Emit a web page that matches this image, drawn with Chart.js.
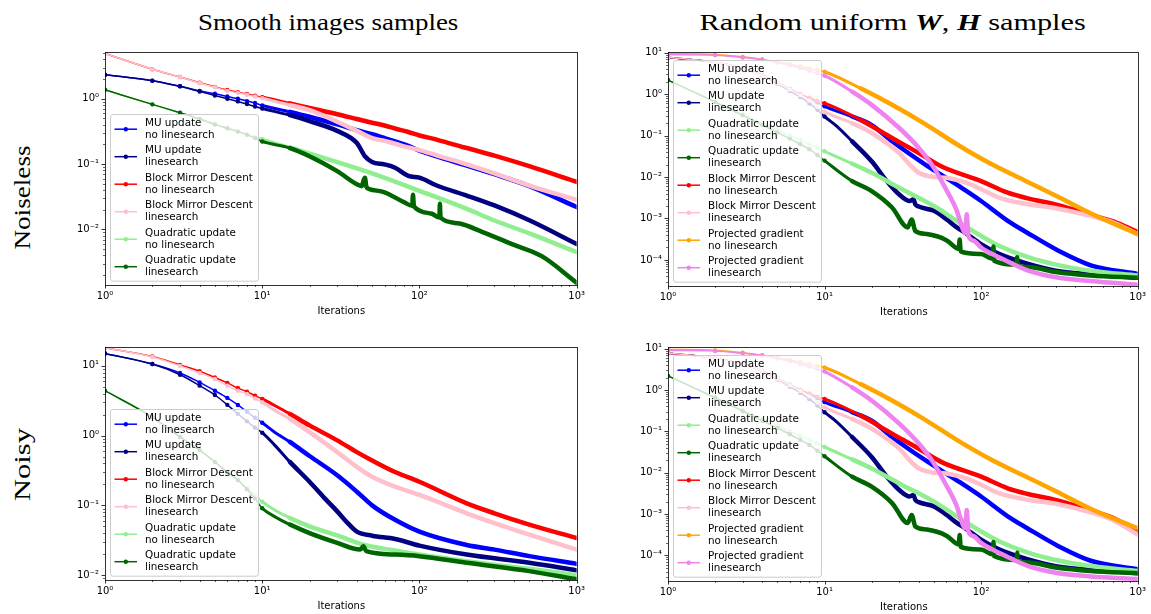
<!DOCTYPE html>
<html><head><meta charset="utf-8">
<script src="https://cdn.jsdelivr.net/npm/chart.js@4.4.0/dist/chart.umd.min.js"></script>
<style>
html,body{margin:0;padding:0;background:#fff;width:1151px;height:614px;overflow:hidden;position:relative;}
canvas{position:absolute;}
.t{position:absolute;white-space:nowrap;font-family:'Liberation Serif',serif;font-size:23px;color:#000;line-height:1;transform-origin:0 0;}
.ax{position:absolute;font-family:'DejaVu Sans',sans-serif;font-size:10px;white-space:nowrap;color:#000;line-height:1;}
</style></head><body>
<script>
// ---------------- DATA ----------------
const xTickDecades = [1, 10, 100, 1000];
const columnTitles = ['Smooth images samples', 'Random uniform <b><i>W</i></b>, <b><i>H</i></b> samples'];
const rowTitles = ['Noiseless', 'Noisy'];
const xAxisTitle = 'Iterations';

const LBL_MU_NO = 'MU update\nno linesearch';
const LBL_MU_LS = 'MU update\nlinesearch';
const LBL_BMD_NO = 'Block Mirror Descent\nno linesearch';
const LBL_BMD_LS = 'Block Mirror Descent\nlinesearch';
const LBL_Q_NO = 'Quadratic update\nno linesearch';
const LBL_Q_LS = 'Quadratic update\nlinesearch';
const LBL_PG_NO = 'Projected gradient\nno linesearch';
const LBL_PG_LS = 'Projected gradient\nlinesearch';

// Top-left: smooth, noiseless
const tlX   = [1,2,3,4,5,6,7,8,9,10,15,20,30,40,50,60,70,85,100,130,200,300,500,1000];
const tlMuNo  = [2.33,1.89,1.55,1.32,1.19,1.08,1.0,0.92,0.86,0.79,0.63,0.53,0.405,0.33,0.286,0.25,0.222,0.19,0.16,0.13,0.095,0.07,0.046,0.022];
const tlBmdNo = [4.94,2.83,2.15,1.76,1.52,1.36,1.26,1.18,1.11,1.06,0.85,0.72,0.58,0.49,0.43,0.39,0.35,0.31,0.274,0.235,0.176,0.135,0.093,0.0535];
const tlBmdLs = [4.94,2.83,2.15,1.74,1.50,1.32,1.23,1.15,1.08,1.02,0.80,0.667,0.445,0.322,0.249,0.227,0.205,0.18,0.164,0.135,0.099,0.072,0.047,0.0283];
const tlXn  = [1,2,3,4,5,6,7,8,9,10,15,20,30,40,45,50,60,70,85,100,130,200,300,500,1000];
const tlMuLs  = [2.33,1.89,1.55,1.29,1.12,1.0,0.91,0.83,0.76,0.71,0.56,0.455,0.322,0.21,0.132,0.108,0.099,0.088,0.066,0.062,0.0466,0.033,0.0233,0.0138,0.006];
const tlXq  = [1,2,3,4,5,6,7,8,9,10,15,20,30,50,100,200,300,500,1000];
const tlQNo   = [1.37,0.82,0.61,0.49,0.405,0.353,0.314,0.286,0.261,0.241,0.18,0.145,0.107,0.072,0.039,0.0207,0.0137,0.0087,0.0045];
const tlXd  = [1,2,3,4,5,6,7,8,9,10,15,20,30,40,43,44,45,46,48,60,80,90,91,92,93,120,134,135,136,137,180,250,400,600,1000];
const tlQLs   = [1.37,0.82,0.61,0.49,0.405,0.353,0.314,0.28,0.25,0.222,0.176,0.132,0.078,0.049,0.046,0.055,0.062,0.045,0.0415,0.037,0.026,0.023,0.034,0.024,0.022,0.0174,0.0152,0.0247,0.016,0.015,0.0123,0.0092,0.0058,0.0039,0.00153];

// Top-right: random uniform, noiseless
const trXb  = [1,2,3,4,5,6,7,8,9,10,15,20,27,44,72,100,148,196,312,508,1000];
const trMuNo  = [7.7,5.9,4.2,2.9,1.9,1.35,1.0,0.8,0.63,0.51,0.29,0.18,0.073,0.020,0.0061,0.00265,0.00088,0.00046,0.000167,0.000073,0.000046];
const trXn  = [1,2,3,4,5,6,7,8,9,10,12,15,20,25,30,35,37,38,40,50,60,70,80,90,100,130,200,300,500,1000];
const trMuLs  = [7.7,5.9,4.2,2.9,1.8,1.2,0.85,0.6,0.42,0.29,0.168,0.073,0.024,0.008,0.0038,0.00265,0.0029,0.0022,0.00194,0.00153,0.00096,0.00061,0.00044,0.00032,0.00024,0.00014,0.00008,0.000055,0.000045,0.000037];
const trXq  = [1,2,3,4,5,6,7,8,9,10,15,20,30,50,70,100,130,200,300,500,1000];
const trQNo   = [2.2,0.67,0.33,0.2,0.14,0.1,0.078,0.062,0.051,0.042,0.021,0.0127,0.0055,0.002,0.00088,0.00038,0.00022,0.000116,0.000077,0.000055,0.000042];
const trXd  = [1,2,3,4,5,6,7,8,9,10,15,20,27,34,36,38,45,60,72,73,74,100,118,120,121,168,170,171,200,300,500,1000];
const trQLs   = [2.2,0.65,0.31,0.18,0.12,0.085,0.062,0.047,0.034,0.025,0.008,0.0046,0.00184,0.00061,0.00095,0.0005,0.00042,0.0003,0.000184,0.00031,0.000161,0.000139,0.000106,0.00021,0.000096,0.000077,0.000116,0.000073,0.000067,0.000051,0.000042,0.000037];
const trXr  = [1,2,3,4,5,6,7,8,9,10,17,27,40,56,100,148,196,312,508,700,1000];
const trBmdNo = [7.8,5.9,4.2,2.9,1.84,1.34,1.0,0.83,0.69,0.61,0.24,0.088,0.038,0.018,0.008,0.0042,0.0031,0.0021,0.0012,0.00085,0.00047];
const trXp  = [1,2,3,4,5,6,7,8,9,10,15,20,30,35,40,50,60,80,100,130,200,300,500,700,1000];
const trBmdLs = [7.8,5.9,4.2,2.9,1.9,1.3,0.95,0.7,0.5,0.38,0.2,0.116,0.038,0.02,0.0127,0.01,0.0096,0.0073,0.0051,0.0032,0.0022,0.00177,0.00116,0.0008,0.00042];
const trXo  = [1,2,3,4,5,6,7,8,9,10,17,27,44,72,118,191,312,508,1000];
const trPgNo  = [9.6,9.1,8.0,6.9,6.0,5.3,4.7,4.2,3.8,3.5,1.39,0.555,0.19,0.058,0.02,0.0082,0.0033,0.0013,0.00042];
const trXv  = [1,2,3,4,5,6,7,8,9,10,15,20,30,40,50,59,70,75,79,80,81,82,83,90,100,130,200,300,500,1000];
const trPgLs  = [9.0,8.8,7.7,6.8,5.8,5.0,4.3,3.7,3.2,2.8,1.16,0.555,0.153,0.0506,0.0167,0.0055,0.00153,0.00067,0.00045,0.0007,0.00126,0.0007,0.00038,0.00029,0.0002,0.000116,0.000055,0.000038,0.000031,0.000025];

// Bottom-left: smooth, noisy
const blX   = [1,2,3,4,5,6,7,8,9,10,12,15,20,30,40,50,70,100,200,300,500,1000];
const blBmdNo = [18.2,13.6,10.3,8.4,6.8,5.7,4.8,4.26,3.74,3.35,2.7,2.05,1.4,0.855,0.58,0.44,0.30,0.218,0.107,0.077,0.053,0.034];
const blBmdLs = [18.2,13.4,10.0,7.9,6.46,5.2,4.4,3.95,3.4,3.0,2.3,1.74,1.12,0.58,0.356,0.257,0.185,0.141,0.077,0.0557,0.038,0.0232];
const blMuNo  = [15.0,10.6,7.9,5.8,4.4,3.47,2.75,2.2,1.8,1.53,1.12,0.81,0.51,0.27,0.157,0.10,0.062,0.042,0.027,0.0232,0.0187,0.0145];
const blXn  = [1,2,3,4,5,6,7,8,9,10,12,15,20,25,30,35,40,50,70,100,200,500,1000];
const blMuLs  = [15.0,10.6,7.45,5.2,3.82,2.76,2.05,1.6,1.3,1.1,0.73,0.42,0.218,0.126,0.082,0.0557,0.042,0.0367,0.033,0.0265,0.0197,0.015,0.0117];
const blXq  = [1,2,3,4,5,6,7,8,9,10,12,15,20,30,45,70,100,200,500,1000];
const blQNo   = [4.4,1.84,0.955,0.62,0.42,0.30,0.23,0.175,0.14,0.113,0.086,0.066,0.05,0.037,0.027,0.0225,0.0197,0.0158,0.0123,0.01];
const blXd  = [1,2,3,4,5,6,7,8,9,10,12,15,20,30,42,44,46,70,100,200,500,1000];
const blQLs   = [4.4,1.84,0.955,0.62,0.42,0.30,0.23,0.17,0.125,0.091,0.069,0.053,0.040,0.029,0.0232,0.0259,0.022,0.0197,0.0187,0.015,0.0114,0.0087];

// Bottom-right: random uniform, noisy
const brMuNo  = [7.7,5.9,4.2,2.9,1.9,1.35,1.0,0.8,0.63,0.51,0.29,0.18,0.073,0.020,0.0061,0.00265,0.00088,0.00046,0.000167,0.000073,0.000046];
const brMuLs  = [7.7,5.9,4.2,2.9,1.8,1.2,0.85,0.6,0.42,0.29,0.168,0.073,0.024,0.008,0.0038,0.00265,0.0029,0.0022,0.00194,0.00153,0.00096,0.00061,0.00044,0.00032,0.00024,0.00014,0.00008,0.000055,0.000045,0.000037];
const brQNo   = [2.2,0.67,0.33,0.2,0.14,0.1,0.078,0.062,0.051,0.042,0.021,0.0127,0.0055,0.002,0.00088,0.00038,0.00022,0.000116,0.000077,0.000055,0.000042];
const brQLs   = [2.2,0.65,0.31,0.18,0.12,0.085,0.062,0.047,0.034,0.025,0.008,0.0046,0.00184,0.00061,0.00095,0.0005,0.00042,0.0003,0.000184,0.00031,0.000161,0.000139,0.000106,0.00021,0.000096,0.000077,0.000116,0.000073,0.000067,0.000051,0.000042,0.000037];
const brBmdNo = [7.8,5.9,4.2,2.9,1.84,1.34,1.0,0.83,0.69,0.61,0.24,0.088,0.038,0.018,0.008,0.0042,0.0031,0.0021,0.0012,0.0008,0.00038];
const brBmdLs = [7.8,5.9,4.2,2.9,1.9,1.3,0.95,0.7,0.5,0.38,0.2,0.116,0.038,0.02,0.0127,0.01,0.0096,0.0073,0.0051,0.0032,0.0022,0.00177,0.0011,0.0007,0.00032];
const brPgNo  = [9.6,9.1,8.0,6.9,6.0,5.3,4.7,4.2,3.8,3.5,1.39,0.555,0.19,0.058,0.02,0.0082,0.0033,0.0013,0.00045];
const brPgLs  = [9.0,8.8,7.7,6.8,5.8,5.0,4.3,3.7,3.2,2.8,1.16,0.555,0.153,0.0506,0.0167,0.0055,0.00153,0.00067,0.00045,0.0007,0.00126,0.0007,0.00038,0.00029,0.0002,0.000116,0.000055,0.000038,0.000031,0.000027];

// ---------------- STYLE / LAYOUT ----------------
const C = {blue:'#0000ff', navy:'#000080', red:'#ff0000', pink:'#ffc0cb', lightgreen:'#90ee90', darkgreen:'#006400', orange:'#ffa500', violet:'#ee82ee'};

const panels = [
  {left:45, top:40, w:545, h:290, area:{left:105, top:50, right:578, bottom:285}, ymin:Math.pow(10,-2.85), ymax:Math.pow(10,0.715), legendTop:62, xlabelY:306,
   series:[[LBL_MU_NO,C.blue,tlX,tlMuNo],[LBL_MU_LS,C.navy,tlXn,tlMuLs],[LBL_BMD_NO,C.red,tlX,tlBmdNo],[LBL_BMD_LS,C.pink,tlX,tlBmdLs],[LBL_Q_NO,C.lightgreen,tlXq,tlQNo],[LBL_Q_LS,C.darkgreen,tlXd,tlQLs]]},
  {left:606, top:40, w:545, h:290, area:{left:668, top:51, right:1140, bottom:286}, ymin:Math.pow(10,-4.63), ymax:Math.pow(10,1.02), legendTop:8, xlabelY:307,
   series:[[LBL_MU_NO,C.blue,trXb,trMuNo],[LBL_MU_LS,C.navy,trXn,trMuLs],[LBL_Q_NO,C.lightgreen,trXq,trQNo],[LBL_Q_LS,C.darkgreen,trXd,trQLs],[LBL_BMD_NO,C.red,trXr,trBmdNo],[LBL_BMD_LS,C.pink,trXp,trBmdLs],[LBL_PG_NO,C.orange,trXo,trPgNo],[LBL_PG_LS,C.violet,trXv,trPgLs]]},
  {left:45, top:335, w:545, h:279, area:{left:105, top:346, right:578, bottom:580}, ymin:Math.pow(10,-2.07), ymax:Math.pow(10,1.27), legendTop:62, xlabelY:601,
   series:[[LBL_MU_NO,C.blue,blX,blMuNo],[LBL_MU_LS,C.navy,blXn,blMuLs],[LBL_BMD_NO,C.red,blX,blBmdNo],[LBL_BMD_LS,C.pink,blX,blBmdLs],[LBL_Q_NO,C.lightgreen,blXq,blQNo],[LBL_Q_LS,C.darkgreen,blXd,blQLs]]},
  {left:606, top:335, w:545, h:279, area:{left:668, top:347, right:1140, bottom:581}, ymin:Math.pow(10,-4.62), ymax:Math.pow(10,1.04), legendTop:8, xlabelY:602,
   series:[[LBL_MU_NO,C.blue,trXb,brMuNo],[LBL_MU_LS,C.navy,trXn,brMuLs],[LBL_Q_NO,C.lightgreen,trXq,brQNo],[LBL_Q_LS,C.darkgreen,trXd,brQLs],[LBL_BMD_NO,C.red,trXr,brBmdNo],[LBL_BMD_LS,C.pink,trXp,brBmdLs],[LBL_PG_NO,C.orange,trXo,brPgNo],[LBL_PG_LS,C.violet,trXv,brPgLs]]}
];

const SUP = {'0':'\u2070','1':'\u00b9','2':'\u00b2','3':'\u00b3','4':'\u2074','5':'\u2075','-':'\u207b'};
function isDecade(v){ const l = Math.log10(v); return Math.abs(l - Math.round(l)) < 1e-6; }
function supLabel(v){ const e = Math.round(Math.log10(v)); return '10' + String(e).split('').map(c => SUP[c]).join(''); }
function logTicks(min, max){
  const t = [];
  for (let d = Math.floor(Math.log10(min)); d <= Math.ceil(Math.log10(max)); d++)
    for (let k = 1; k <= 9; k++){ const v = k * Math.pow(10, d); if (v >= min*0.9999 && v <= max*1.0001) t.push({value:v}); }
  return t;
}
const TICK_FONT = {family:'DejaVu Sans', size:10};

const framePlugin = {
  id:'frame',
  afterDatasetsDraw(chart, args, opts){
    const ctx = chart.ctx, a = chart.chartArea;
    ctx.save();
    ctx.strokeStyle = '#000'; ctx.lineWidth = 0.8;
    ctx.strokeRect(Math.round(a.left)+0.5, Math.round(a.top)+0.5, Math.round(a.right-a.left), Math.round(a.bottom-a.top));
    ['x','y'].forEach(id => {
      const s = chart.scales[id];
      s.ticks.forEach(t => {
        const major = isDecade(t.value), len = major ? 3.5 : 2;
        const p = Math.round(s.getPixelForValue(t.value)) + 0.5;
        ctx.lineWidth = major ? 0.8 : 0.6;
        ctx.beginPath();
        if (id === 'x'){ ctx.moveTo(p, a.bottom); ctx.lineTo(p, a.bottom + len); }
        else { ctx.moveTo(a.left, p); ctx.lineTo(a.left - len, p); }
        ctx.stroke();
      });
    });
    const ds = chart.data.datasets;
    const bx = a.left + 5.5, by = a.top + opts.legendTop + 0.5, bw = 148;
    const bh = 14.7 + 27.5*(ds.length-1) + 14.5;
    ctx.beginPath();
    ctx.roundRect(bx, by, bw, bh, 2.5);
    ctx.fillStyle = 'rgba(255,255,255,0.8)'; ctx.fill();
    ctx.strokeStyle = '#cccccc'; ctx.lineWidth = 1; ctx.stroke();
    ctx.font = '10.4px "DejaVu Sans"'; ctx.textBaseline = 'middle'; ctx.textAlign = 'left';
    ds.forEach((d, i) => {
      const hy = by + 14.7 + 27.5*i;
      ctx.strokeStyle = d.borderColor; ctx.lineWidth = 1.5;
      ctx.beginPath(); ctx.moveTo(bx + 4, hy); ctx.lineTo(bx + 26.5, hy); ctx.stroke();
      ctx.fillStyle = d.borderColor; ctx.beginPath(); ctx.arc(bx + 15.3, hy, 2.2, 0, Math.PI*2); ctx.fill();
      ctx.fillStyle = '#000';
      const lines = d.label.split('\n');
      ctx.fillText(lines[0], bx + 34.5, hy - 6);
      ctx.fillText(lines[1], bx + 34.5, hy + 6);
    });
    ctx.restore();
  }
};

function widthFor(x){ return x < 10 ? 1.5 : (x < 15 ? 3 : 4.5); }

panels.forEach(p => {
  const cv = document.createElement('canvas');
  cv.width = p.w; cv.height = p.h;
  cv.style.left = p.left + 'px'; cv.style.top = p.top + 'px';
  document.body.appendChild(cv);
  const N = p.series.length;
  const datasets = p.series.map((s, i) => {
    const [label, color, xs, ys] = s;
    return {
      label, borderColor: color, backgroundColor: color,
      data: xs.map((x, j) => ({x, y: ys[j]})),
      borderWidth: 1.5, cubicInterpolationMode: 'monotone', clip: 0, order: N - i,
      borderJoinStyle: 'round', borderCapStyle: 'round',
      pointRadius: c => (xs[c.dataIndex] <= 10 ? 2.2 : 0), pointBorderWidth: 0, pointHoverRadius: 0,
      segment: { borderWidth: c => widthFor(xs[c.p0DataIndex]) }
    };
  });
  new Chart(cv, {
    type:'line',
    data:{datasets},
    plugins:[framePlugin],
    options:{
      responsive:false, animation:false, devicePixelRatio:1, events:[],
      layout:{padding:{left:0, top:p.area.top - p.top, right:p.left + p.w - p.area.right, bottom:0}},
      plugins:{legend:{display:false}, tooltip:{enabled:false}, frame:{legendTop:p.legendTop}},
      scales:{
        x:{type:'logarithmic', position:'bottom', min:1, max:1000,
           grid:{display:false, drawTicks:false}, border:{display:false},
           ticks:{font:TICK_FONT, color:'#000', padding:5, autoSkip:false, maxRotation:0, minRotation:0,
                  callback:(v) => (xTickDecades.includes(v) ? supLabel(v) : '')},
           afterBuildTicks: s => { s.ticks = logTicks(1, 1000); },
           afterFit: s => { s.height = p.top + p.h - p.area.bottom; }},
        y:{type:'logarithmic', position:'left', min:p.ymin, max:p.ymax,
           grid:{display:false, drawTicks:false}, border:{display:false},
           ticks:{font:TICK_FONT, color:'#000', padding:6, autoSkip:false,
                  callback:(v) => (isDecade(v) ? supLabel(v) : '')},
           afterBuildTicks: s => { s.ticks = logTicks(p.ymin, p.ymax); },
           afterFit: s => { s.width = p.area.left - p.left; }}
      }
    }
  });
  const xl = document.createElement('div');
  xl.className = 'ax'; xl.textContent = xAxisTitle;
  document.body.appendChild(xl);
  xl.style.left = ((p.area.left + p.area.right)/2 - xl.offsetWidth/2) + 'px';
  xl.style.top = p.xlabelY + 'px';
});

function placeText(html, cx, cy, targetW, rotate){
  const el = document.createElement('div');
  el.className = 't'; el.innerHTML = html;
  document.body.appendChild(el);
  const w = el.offsetWidth, h = el.offsetHeight;
  const s = targetW / w;
  el.style.left = (cx - w/2) + 'px'; el.style.top = (cy - h/2) + 'px';
  el.style.transformOrigin = '50% 50%';
  el.style.transform = (rotate ? 'rotate(-90deg) ' : '') + 'scaleX(' + s + ')';
}
placeText(columnTitles[0], 328, 22, 260, false);
placeText(columnTitles[1], 892, 22, 386, false);
placeText(rowTitles[0], 22, 197, 104, true);
placeText(rowTitles[1], 22, 464, 73, true);
</script>
</body></html>
